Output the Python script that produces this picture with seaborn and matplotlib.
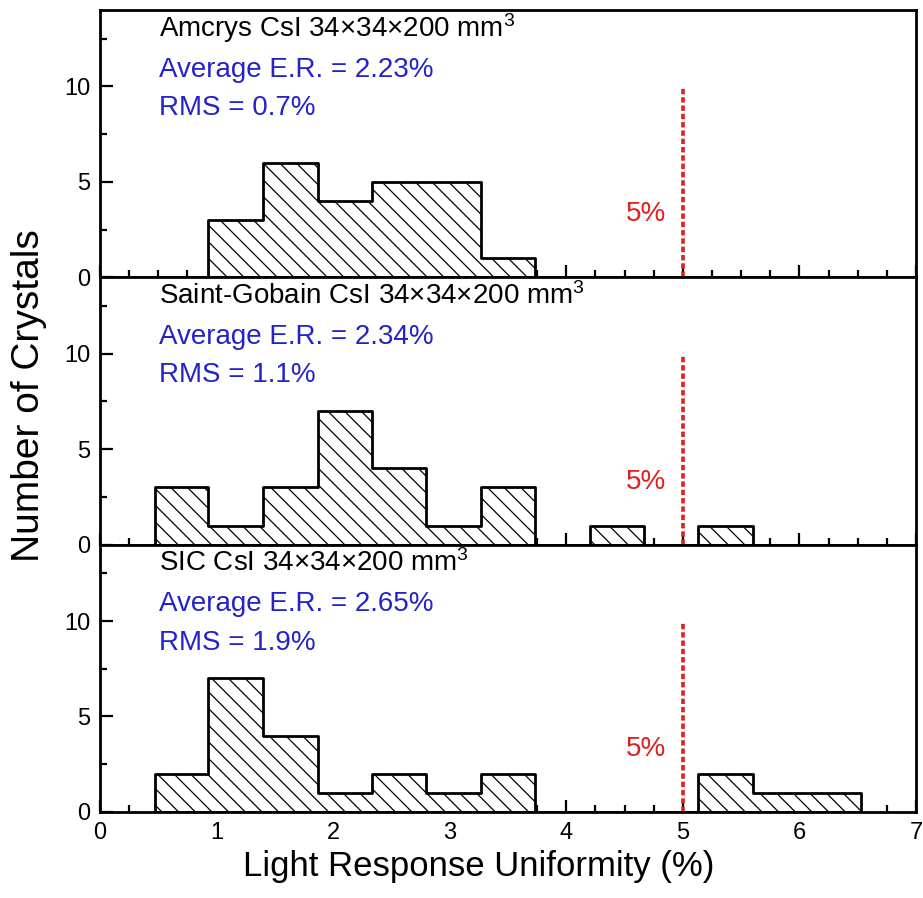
import numpy as np
import pandas as pd
import matplotlib
matplotlib.use('Agg')
import matplotlib.pyplot as plt
from matplotlib.ticker import MultipleLocator
import seaborn as sns

# bin edges (%) and counts per bin
bin_edges = [0.47, 0.93, 1.40, 1.87, 2.33, 2.80, 3.27, 3.73, 4.20, 4.67, 5.13, 5.60, 6.07, 6.53]
amcrys_counts = [0, 3, 6, 4, 5, 5, 1, 0, 0, 0, 0, 0, 0]
saint_gobain_counts = [3, 1, 3, 7, 4, 1, 3, 0, 1, 0, 1, 0, 0]
sic_counts = [2, 7, 4, 1, 2, 1, 2, 0, 0, 0, 2, 1, 1]

panel_titles = ['Amcrys CsI 34\u00d734\u00d7200 mm$^{3}$',
                'Saint-Gobain CsI 34\u00d734\u00d7200 mm$^{3}$',
                'SIC CsI 34\u00d734\u00d7200 mm$^{3}$']
avg_er = ['2.23%', '2.34%', '2.65%']
rms = ['0.7%', '1.1%', '1.9%']
limit = 5.0

sns.set_style('white')
plt.rcParams['font.family'] = ['Liberation Sans', 'DejaVu Sans']
plt.rcParams['mathtext.default'] = 'regular'
plt.rcParams['hatch.linewidth'] = 0.9
plt.rcParams['hatch.color'] = 'black'
plt.rcParams['text.color'] = 'black'
plt.rcParams['xtick.color'] = 'black'
plt.rcParams['ytick.color'] = 'black'
plt.rcParams['axes.labelcolor'] = 'black'

centers = [(a + b) / 2 for a, b in zip(bin_edges[:-1], bin_edges[1:])]
df = pd.DataFrame({'center': centers * 3,
                   'count': amcrys_counts + saint_gobain_counts + sic_counts,
                   'panel': [0] * len(centers) + [1] * len(centers) + [2] * len(centers)})

fig, axes = plt.subplots(3, 1, figsize=(9.23, 8.98), dpi=100, sharex=True)
fig.subplots_adjust(left=0.1083, right=0.9924, top=0.9889, bottom=0.0958, hspace=0)

blue = '#2323c8'
red = '#e0201e'

for i, ax in enumerate(axes):
    sub = df[df['panel'] == i]
    sns.histplot(data=sub, x='center', weights='count', bins=bin_edges,
                 element='step', fill=True, ax=ax,
                 facecolor='white', edgecolor='black', linewidth=2.0,
                 hatch='\\\\', alpha=1)
    ax.plot([limit, limit], [0, 10], color=red, lw=2.6, dashes=(1.5, 0.8))
    ax.text(4.86, 3.3, '5%', color=red, fontsize=20, ha='right', va='center')
    ax.text(0.51, 12.6, panel_titles[i], fontsize=20, color='black', ha='left', va='baseline')
    ax.text(0.51, 10.5, 'Average E.R. = ' + avg_er[i], fontsize=20, color=blue, ha='left', va='baseline')
    ax.text(0.51, 8.5, 'RMS = ' + rms[i], fontsize=20, color=blue, ha='left', va='baseline')

    ax.set_xlim(0, 7)
    ax.set_ylim(0, 14)
    ax.set_yticks([0, 5, 10])
    ax.yaxis.set_minor_locator(MultipleLocator(2.5))
    ax.xaxis.set_major_locator(MultipleLocator(1))
    ax.xaxis.set_minor_locator(MultipleLocator(0.25))
    ax.tick_params(which='both', direction='in', width=1.6, labelsize=17,
                   top=False, right=False, bottom=True, left=True, pad=7)
    ax.tick_params(which='major', length=9)
    ax.tick_params(which='minor', length=5)
    ax.set_xlabel('')
    ax.set_ylabel('')
    for sp in ax.spines.values():
        sp.set_linewidth(2.0)
        sp.set_color('black')

axes[2].set_xticks(range(0, 8))
fig.text(0.031, 0.559, 'Number of Crystals', rotation=90, fontsize=28, ha='center', va='center')
fig.text(0.519, 0.035, 'Light Response Uniformity (%)', fontsize=25, ha='center', va='center')

fig.savefig('out.png', dpi=100)
